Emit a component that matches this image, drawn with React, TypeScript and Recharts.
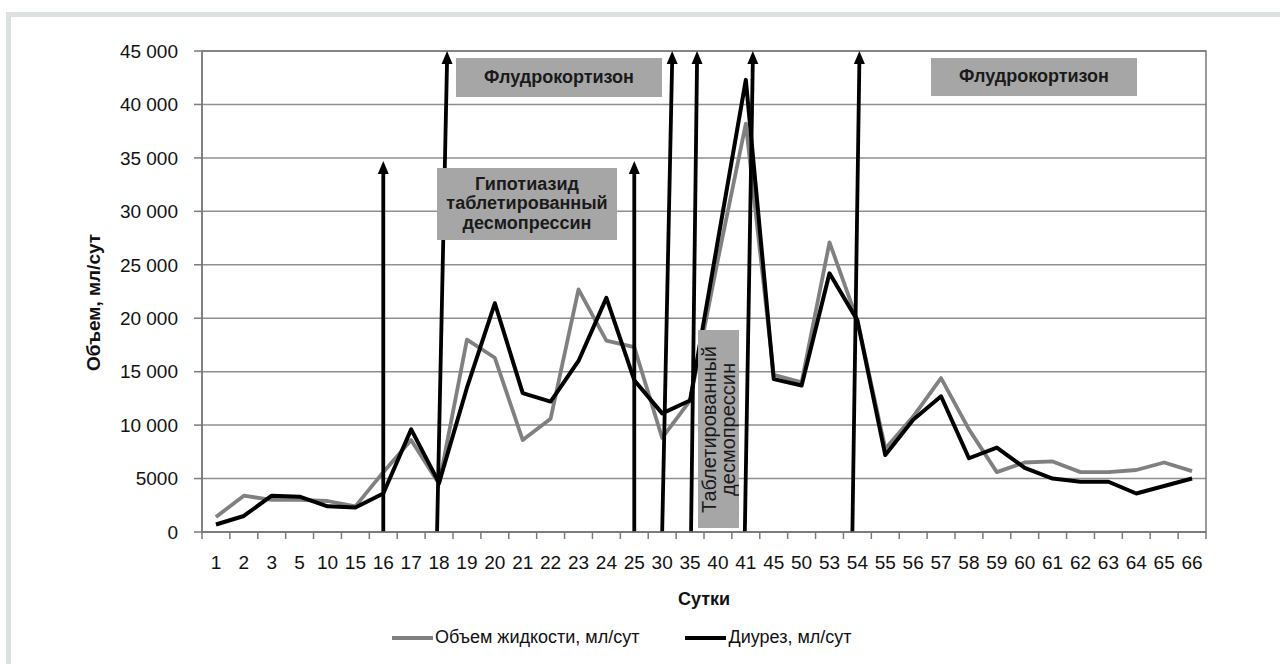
import { LineChart, Line, XAxis, YAxis, CartesianGrid, ReferenceLine, ReferenceArea, Legend } from "recharts";

const days = ["1", "2", "3", "5", "10", "15", "16", "17", "18", "19", "20", "21", "22", "23", "24", "25", "30", "35", "40", "41", "45", "50", "53", "54", "55", "56", "57", "58", "59", "60", "61", "62", "63", "64", "65", "66"];
const fluidVolume = [1400, 3400, 3000, 3000, 2900, 2400, 5600, 8600, 4500, 18000, 16300, 8600, 10600, 22700, 17900, 17300, 8800, 12300, 25500, 38200, 14700, 14000, 27100, 19800, 7800, 10800, 14400, 9600, 5600, 6500, 6600, 5600, 5600, 5800, 6500, 5700];
const diuresis = [700, 1500, 3400, 3300, 2400, 2300, 3600, 9600, 4600, 13500, 21400, 13000, 12200, 16000, 21900, 14200, 11100, 12300, 27300, 42300, 14300, 13700, 24200, 19800, 7200, 10500, 12700, 6900, 7900, 6000, 5000, 4700, 4700, 3600, 4300, 5000];
const yTicks = [0, 5000, 10000, 15000, 20000, 25000, 30000, 35000, 40000, 45000];
const legendOrder = ["fluid", "diuresis"];

// drug start markers (arrows), top value in ml
const arrowDays = ["16", "18", "25", "30", "35", "41", "54"];
const arrowTops = [34700, 45000, 34700, 45000, 45000, 45000, 45000];
// hand-drawn slant in the original: px shift at bottom / top
const arrowSkew = [[0, 0], [-2, 8], [0, 0], [0, 10], [1, 7], [-1, 7], [-5, 2]];

const data = days.map((d, i) => ({ day: d, fluid: fluidVolume[i], diuresis: diuresis[i] }));

const FONT = '"Liberation Sans", Arial, sans-serif';
const AXIS = "#7a7a7a";
const TICK_SIZE = 7;
const TICK_MARGIN = 17;

const notes = [
  { lines: ["Флудрокортизон"], left: 456, top: 58, width: 206, height: 39, bold: true },
  { lines: ["Гипотиазид", "таблетированный", "десмопрессин"], left: 437, top: 168, width: 180, height: 72, bold: true },
  { lines: ["Таблетированный", "десмопрессин"], left: 698, top: 330, width: 41, height: 198, vertical: true },
  { lines: ["Флудрокортизон"], left: 931, top: 58, width: 206, height: 38, bold: true },
];

const fmt = (v: number) => (v < 10000 ? String(v) : String(v).replace(/\B(?=(\d{3})+(?!\d))/g, " "));

function DayTick(props: any) {
  const { x, y, payload, index, visibleTicksCount } = props;
  const half = payload.offset ?? 0;
  const axisY = y - TICK_SIZE - TICK_MARGIN;
  return (
    <g>
      <line x1={x - half} x2={x - half} y1={axisY} y2={axisY + TICK_SIZE} stroke={AXIS} strokeWidth={1.5} />
      {index === visibleTicksCount - 1 && (
        <line x1={x + half} x2={x + half} y1={axisY} y2={axisY + TICK_SIZE} stroke={AXIS} strokeWidth={1.5} />
      )}
      <text x={x} y={y} dy="0.71em" textAnchor="middle" fontSize={19} fill="#111" fontFamily={FONT}>
        {payload.value}
      </text>
    </g>
  );
}

const makeArrow = (skew: number[]) => (p: any) => {
  const bottom = p.y1 > p.y2 ? { x: p.x1, y: p.y1 } : { x: p.x2, y: p.y2 };
  const top = p.y1 > p.y2 ? { x: p.x2, y: p.y2 } : { x: p.x1, y: p.y1 };
  const bx = bottom.x + skew[0];
  const tx = top.x + skew[1];
  return (
    <g>
      <line x1={bx} y1={bottom.y} x2={tx} y2={top.y + 10} stroke="#000" strokeWidth={3.8} />
      <polygon points={`${tx},${top.y} ${tx - 5.5},${top.y + 13} ${tx + 5.5},${top.y + 13}`} fill="#000" />
    </g>
  );
};

function LegendContent({ payload }: any) {
  const items = [...(payload || [])].sort((a: any, b: any) => legendOrder.indexOf(a.dataKey) - legendOrder.indexOf(b.dataKey));
  return (
    <div style={{ display: "flex", alignItems: "center", paddingLeft: 392, fontFamily: FONT }}>
      {items.map((p: any) => (
        <div key={p.value} style={{ display: "flex", alignItems: "center", marginRight: 46 }}>
          <span style={{ display: "inline-block", width: 41, height: 4, background: p.color }} />
          <span style={{ marginLeft: 2, fontSize: 18, color: "#111" }}>{p.value}</span>
        </div>
      ))}
    </div>
  );
}

export default function App() {
  return (
    <div style={{ position: "absolute", left: 0, top: 0, width: 1280, height: 664, background: "#fff", overflow: "hidden", fontFamily: FONT }}>
      <div style={{ position: "absolute", left: 6, top: 12, right: 0, bottom: 0, borderTop: "5px solid #dde0e1", borderLeft: "5px solid #dde0e1" }} />
      <LineChart width={1280} height={664} data={data} margin={{ top: 51, right: 74, bottom: 52, left: 0 }}>
        <CartesianGrid vertical={false} stroke="#8f8f8f" strokeWidth={1.5} />
        <ReferenceArea y1={0} y2={45000} fill="none" stroke={AXIS} strokeWidth={1.5} ifOverflow="visible" />
        <XAxis
          dataKey="day"
          scale="band"
          interval={0}
          height={80}
          tickLine={false}
          tickSize={TICK_SIZE}
          tickMargin={TICK_MARGIN}
          tick={<DayTick />}
          axisLine={{ stroke: AXIS, strokeWidth: 1.5 }}
          label={{ value: "Сутки", position: "insideBottom", offset: 7, style: { fontWeight: "bold", fontSize: 18, fill: "#111", fontFamily: FONT } }}
        />
        <YAxis
          width={202}
          domain={[0, 45000]}
          ticks={yTicks}
          interval={0}
          tickFormatter={fmt}
          tickSize={8}
          tickMargin={16}
          tick={{ fontSize: 19, fill: "#111", fontFamily: FONT }}
          tickLine={{ stroke: AXIS, strokeWidth: 1.5 }}
          axisLine={{ stroke: AXIS, strokeWidth: 1.5 }}
          label={{ value: "Объем, мл/сут", angle: -90, position: "center", dx: -8, dy: 11, style: { fontWeight: "bold", fontSize: 19, fill: "#111", fontFamily: FONT } }}
        />
        <Legend
          layout="horizontal"
          verticalAlign="middle"
          align="center"
          wrapperStyle={{ top: 627, left: 0, width: 1280 }}
          content={<LegendContent />}
        />
        <Line type="linear" dataKey="fluid" name="Объем жидкости, мл/сут" stroke="#808080" strokeWidth={3.8} dot={false} activeDot={false} strokeLinejoin="round" isAnimationActive={false} />
        <Line type="linear" dataKey="diuresis" name="Диурез, мл/сут" stroke="#000" strokeWidth={4} dot={false} activeDot={false} strokeLinejoin="round" isAnimationActive={false} />
        {arrowDays.map((d, i) => (
          <ReferenceLine
            key={d}
            ifOverflow="visible"
            segment={[{ x: d, y: 0 }, { x: d, y: arrowTops[i] }]}
            shape={makeArrow(arrowSkew[i])}
          />
        ))}
      </LineChart>
      {notes.map((n, i) => (
        <div
          key={i}
          style={{
            position: "absolute",
            left: n.left,
            top: n.top,
            width: n.width,
            height: n.height,
            background: "#a6a6a6",
            display: "flex",
            alignItems: "center",
            justifyContent: "center",
            textAlign: "center",
            fontSize: n.vertical ? 20 : 18,
            lineHeight: n.vertical ? "19px" : "19.5px",
            fontWeight: n.bold ? "bold" : "normal",
            color: "#1a1a1a",
          }}
        >
          <div style={n.vertical ? { writingMode: "vertical-rl", transform: "rotate(180deg)" } : undefined}>
            {n.lines.map((l) => (
              <div key={l}>{l}</div>
            ))}
          </div>
        </div>
      ))}
    </div>
  );
}
